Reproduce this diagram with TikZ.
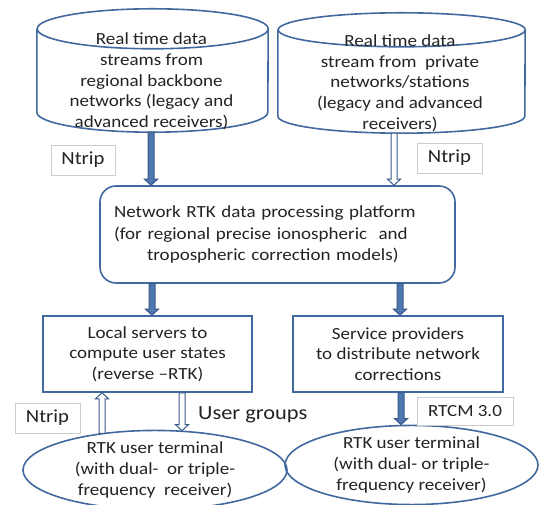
\documentclass[tikz,border=0pt]{standalone}
\usepackage{fontspec}
\setmainfont[FakeStretch=1.12]{Carlito}
\usetikzlibrary{shapes.geometric,calc}
\definecolor{edge}{RGB}{65,105,160}
\definecolor{arrfill}{RGB}{79,120,176}
\definecolor{arredge}{RGB}{55,90,140}
\definecolor{lblgray}{RGB}{205,205,205}
\definecolor{txt}{RGB}{35,35,35}
\newcommand\darr[4]{%
  \draw[#1] let \p1=(#3), \p2=(#4) in
    (#2pt-3pt,\y1) -- (#2pt-3pt,\y2+6pt) -- (#2pt-6.5pt,\y2+6pt) -- (#2pt,\y2)
    -- (#2pt+6.5pt,\y2+6pt) -- (#2pt+3pt,\y2+6pt) -- (#2pt+3pt,\y1) -- cycle;}
\newcommand\uarr[4]{%
  \draw[#1] let \p1=(#3), \p2=(#4) in
    (#2pt-3pt,\y1) -- (#2pt-3pt,\y2-6pt) -- (#2pt-6.5pt,\y2-6pt) -- (#2pt,\y2)
    -- (#2pt+6.5pt,\y2-6pt) -- (#2pt+3pt,\y2-6pt) -- (#2pt+3pt,\y1) -- cycle;}
\begin{document}
\begin{tikzpicture}[x=1pt,y=1pt,
  every node/.style={text=txt, font=\fontsize{17}{20.7}\selectfont},
  shapeline/.style={draw=edge, line width=1.6pt},
  geom/.style={inner sep=0pt, draw=none},
  boxnode/.style={shapeline, inner sep=0pt, align=center},
  ellnode/.style={shapeline, ellipse, inner sep=0pt, align=center},
  lbl/.style={draw=lblgray, line width=0.8pt, fill=white, inner sep=0pt},
  arrfilled/.style={draw=arredge, fill=arrfill, line width=1pt},
  arrhollow/.style={draw=arredge, fill=white, line width=1pt}]
\useasboundingbox (0,0) rectangle (540,505);
\fill[white] (0,0) rectangle (540,505);

% left cylinder
\node[geom, minimum width=231pt, minimum height=123pt] (c1) at (152.5,434.5) {};
\draw[shapeline] ([yshift=-20pt]c1.north west) -- ([yshift=20pt]c1.south west)
  arc[start angle=180, end angle=360, x radius=115.5pt, y radius=20pt]
  -- ([yshift=-20pt]c1.north east)
  arc[start angle=0, end angle=360, x radius=115.5pt, y radius=20pt];
\node[align=center, inner sep=0pt] (c1t) at (151.5,423.5)
  {Real time data\\streams from\\regional backbone\\networks (legacy and\\advanced receivers)};

% right cylinder
\node[geom, minimum width=247pt, minimum height=120pt] (c2) at (401.5,432) {};
\draw[shapeline] ([yshift=-17pt]c2.north west) -- ([yshift=17pt]c2.south west)
  arc[start angle=180, end angle=360, x radius=123.5pt, y radius=17pt]
  -- ([yshift=-17pt]c2.north east)
  arc[start angle=0, end angle=360, x radius=123.5pt, y radius=17pt];
\node[align=center, inner sep=0pt] (c2t) at (400,422)
  {Real time data\\stream from~ private\\networks/stations\\(legacy and advanced\\receivers)};

% platform
\node[shapeline, rounded corners=16pt, minimum width=355pt, minimum height=97pt,
  text width=327pt, inner xsep=14pt, inner ysep=0pt, align=left,
  font=\fontsize{17}{21.5}\selectfont] (plat) at (277.5,270.5)
  {Network RTK data processing platform\\(for regional precise ionospheric~ and\\\hspace*{33pt}tropospheric correction models)};

% lower boxes
\node[boxnode, minimum width=209pt, minimum height=76pt] (loc) at (147.5,151)
  {Local servers to\\compute user states\\(reverse --RTK)};
\node[boxnode, minimum width=210pt, minimum height=76pt] (svc) at (398,151)
  {Service providers\\to distribute network\\corrections};

% ellipses
\node[ellnode, minimum width=264pt, minimum height=74pt] (e1) at (155,35)
  {RTK user terminal\\(with dual-~ or triple-\\frequency~ receiver)};
\node[ellnode, minimum width=253pt, minimum height=76pt] (e2) at (411.5,40)
  {RTK user terminal\\(with dual- or triple-\\frequency receiver)};

% labels
\node[lbl, minimum width=64pt, minimum height=30pt, font=\fontsize{18.5}{22}\selectfont] (n1) at (83,345) {Ntrip};
\node[lbl, minimum width=65pt, minimum height=30pt, font=\fontsize{18.5}{22}\selectfont] (n2) at (449.5,347) {Ntrip};
\node[lbl, minimum width=65pt, minimum height=30pt, font=\fontsize{18.5}{22}\selectfont] (n3) at (47.5,87) {Ntrip};
\node[lbl, minimum width=96pt, minimum height=28pt, font=\fontsize{17}{20}\selectfont] (rtcm) at (465,94) {RTCM 3.0};
\node[anchor=west, inner sep=0pt, font=\fontsize{20}{24}\selectfont] (ug) at (198,90) {User groups};

% arrows
\darr{arrfilled}{151}{c1.south}{plat.north}
\darr{arrhollow}{394}{c2.south}{plat.north}
\darr{arrfilled}{152}{plat.south}{loc.north}
\darr{arrfilled}{400}{plat.south}{svc.north}
\uarr{arrhollow}{102}{e1.147}{loc.south}
\darr{arrhollow}{182}{loc.south}{e1.53}
\darr{arrfilled}{401}{svc.south}{e2.north}
\end{tikzpicture}
\end{document}
